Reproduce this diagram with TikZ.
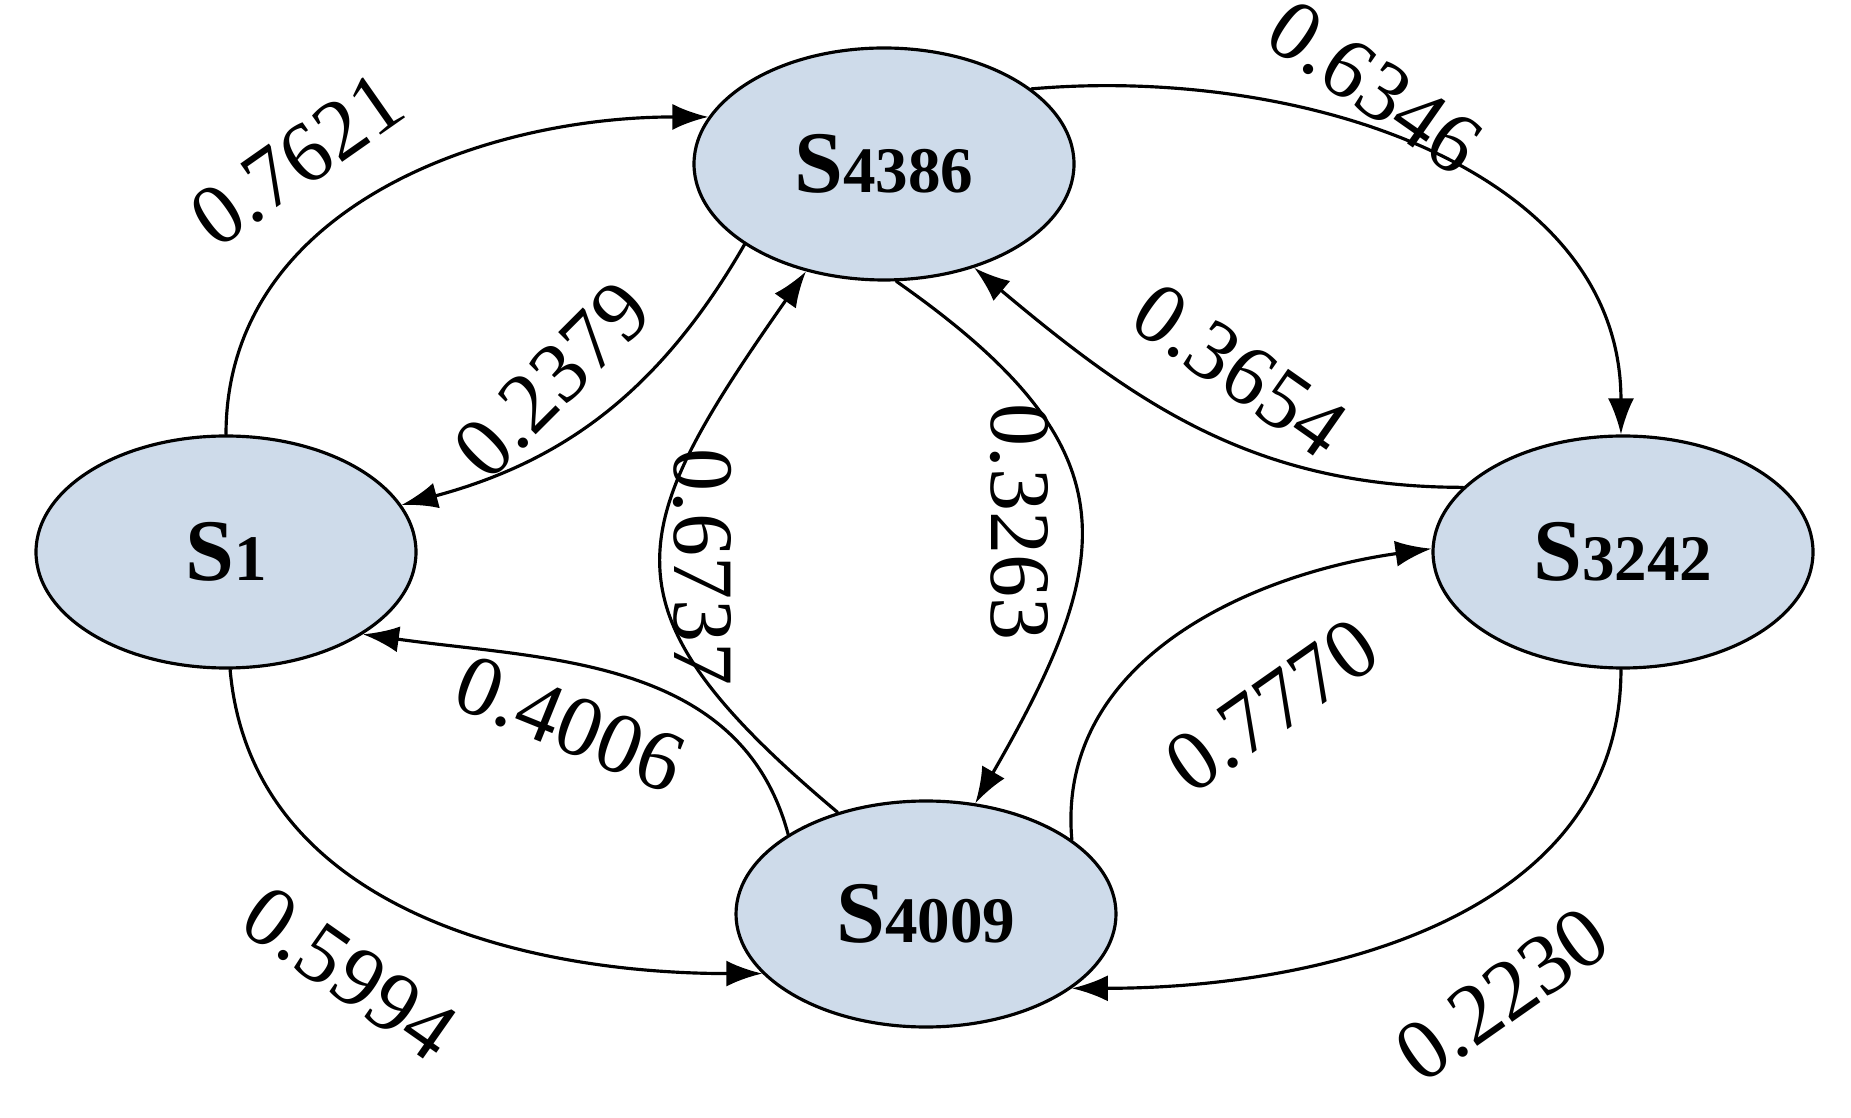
\documentclass[tikz,border=0pt]{standalone}
\usepackage{fontspec}
\setmainfont{Liberation Serif}
\usetikzlibrary{arrows.meta,shapes.geometric}
\definecolor{statefill}{RGB}{206,219,234}
\tikzset{
  state/.style={ellipse,draw,line width=0.9pt,fill=statefill,minimum width=3.8cm,minimum height=2.32cm,inner sep=0pt},
  trans/.style={line width=0.9pt,-{Latex[length=3.6mm,width=2.6mm]}},
  prob/.style={font=\fontsize{24.5}{28}\selectfont,inner sep=0pt}
}
\newcommand{\stname}[1]{\textbf{\fontsize{25}{28}\selectfont S\fontsize{18.5}{22}\selectfont #1}}
\begin{document}
\begin{tikzpicture}[line cap=round,line join=round,x=1.0cm,y=1.0cm]
		\useasboundingbox (0,0) rectangle (18.51,11.17);
		% states
		\node[state] (s4386) at (8.84,9.53) {\stname{4386}};
		\node[state] (s1) at (2.26,5.65) {\stname{1}};
		\node[state] (s3242) at (16.23,5.65) {\stname{3242}};
		\node[state,minimum height=2.26cm] (s4009) at (9.26,2.03) {\stname{4009}};
		% transitions
		\draw[trans] (s1.90) to[out=90,in=180] (s4386.165);
		\draw[trans] (s4386.210) to[out=240,in=15] (s1.15);
		\draw[trans] (s4386.27) to[out=5,in=90] (s3242.91);
		\draw[trans] (s3242.158) to[out=180,in=-40] (s4386.311);
		\draw[trans] (s4386.276) to[out=-35,in=60,looseness=1.4] (s4009.66);
		\draw[trans] (s4009.131) to[out=140,in=235,looseness=1.5] (s4386.234);
		\draw[trans] (s4009.150) to[out=105,in=-8] (s1.329);
		\draw[trans] (s1.272) to[out=-85,in=180] (s4009.200);
		\draw[trans] (s4009.27) to[out=95,in=188] (s3242.179);
		\draw[trans] (s3242.269) to[out=-90,in=0] (s4009.333);
		% probabilities
		\node[prob,rotate=35] (p1) at (2.97,9.57) {0.7621};
		\node[prob,rotate=45] (p2) at (5.52,7.37) {0.2379};
		\node[prob,rotate=-35] (p3) at (13.75,10.3) {0.6346};
		\node[prob,rotate=-35] (p4) at (12.40,7.47) {0.3654};
		\node[prob,rotate=-90] (p5) at (10.20,5.95) {0.3263};
		\node[prob,rotate=-90] (p6) at (7.03,5.50) {0.6737};
		\node[prob,rotate=-22] (p7) at (5.70,3.93) {0.4006};
		\node[prob,rotate=-35] (p8) at (3.50,1.44) {0.5994};
		\node[prob,rotate=35] (p9) at (12.72,4.11) {0.7770};
		\node[prob,rotate=35] (p10) at (15.02,1.22) {0.2230};
\end{tikzpicture}
\end{document}
